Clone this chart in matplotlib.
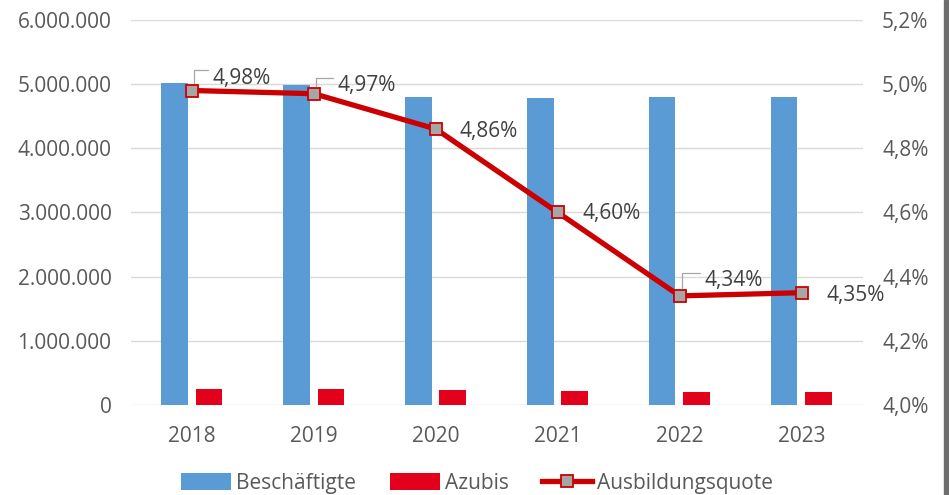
import matplotlib
matplotlib.use("Agg")
import matplotlib.pyplot as plt
from matplotlib.ticker import FuncFormatter
import numpy as np

years = ["2018", "2019", "2020", "2021", "2022", "2023"]
beschaeftigte = [5020000, 4990000, 4800000, 4780000, 4800000, 4800000]
azubis = [250000, 248000, 233000, 220000, 208000, 209000]
quote = [4.98, 4.97, 4.86, 4.60, 4.34, 4.35]
quote_labels = ["4,98%", "4,97%", "4,86%", "4,60%", "4,34%", "4,35%"]

plt.rcParams['font.family'] = ['Open Sans', 'DejaVu Sans']
txt = '#595959'
fs = 15

fig = plt.figure(figsize=(9.49, 4.95), dpi=100)
ax = fig.add_axes([0.138, 0.1818, 0.771, 0.778])
x = np.arange(len(years))
w = 0.22
ax.bar(x - 0.145, beschaeftigte, w, color='#5B9BD5', label='Beschäftigte', zorder=2)
ax.bar(x + 0.14, azubis, w, color='#E2001A', label='Azubis', zorder=2)
ax.set_xlim(-0.5, 5.5)
ax.set_ylim(0, 6000000)
ax.set_yticks(np.arange(0, 6000001, 1000000))
ax.yaxis.set_major_formatter(FuncFormatter(lambda v, p: f"{int(v):,}".replace(",", ".")))
ax.set_xticks(x)
ax.set_xticklabels(years)
ax.grid(axis='y', color='#D9D9D9', linewidth=1, zorder=0)
for s in ax.spines.values():
    s.set_visible(False)
ax.tick_params(axis='both', length=0, colors=txt, labelsize=fs)
ax.tick_params(axis='y', pad=14)
ax.tick_params(axis='x', pad=15)

ax2 = ax.twinx()
ax2.set_ylim(4.0, 5.2)
ax2.set_yticks(np.arange(4.0, 5.21, 0.2))
ax2.yaxis.set_major_formatter(FuncFormatter(lambda v, p: f"{v:.1f}%".replace(".", ",")))
for s in ax2.spines.values():
    s.set_visible(False)
ax2.tick_params(axis='y', length=0, colors=txt, labelsize=fs, pad=14)
ax2.plot(x, quote, color='#CC0000', linewidth=3.8, marker='s', markersize=9,
         markerfacecolor='#A6A6A6', markeredgecolor='#CC0000', markeredgewidth=1.3,
         label='Ausbildungsquote', zorder=3)

offsets = [(15, 9), (17, 6), (17, -2), (18, -1), (18, 11), (18, -2)]
leaders = [True, True, False, False, True, False]
for xi, q, lab, off, ld in zip(x, quote, quote_labels, offsets, leaders):
    ax2.annotate(lab, (xi, q), xytext=off, textcoords='offset points',
                 ha='left', va='center', fontsize=fs, color='#404040')
    if ld:
        ax2.annotate('', (xi + 0.02, q + 0.015), xytext=(off[0] - 3, off[1] + 2),
                     textcoords='offset points',
                     arrowprops=dict(arrowstyle='-', color='#A6A6A6', lw=0.9,
                                     connectionstyle='angle,angleA=0,angleB=90'))

h1, l1 = ax.get_legend_handles_labels()
h2, l2 = ax2.get_legend_handles_labels()
leg = fig.legend(h1 + h2, l1 + l2, loc='lower center', bbox_to_anchor=(0.503, -0.035),
                 ncol=3, frameon=False, fontsize=fs, handlelength=2.4, handleheight=0.9,
                 handletextpad=0.25, columnspacing=1.6)
for t in leg.get_texts():
    t.set_color(txt)

fig.patches.append(plt.Rectangle((0.995, 0), 0.004, 1, transform=fig.transFigure,
                                 color='#6E6E6E', zorder=10))
fig.savefig('out.png', dpi=100)
